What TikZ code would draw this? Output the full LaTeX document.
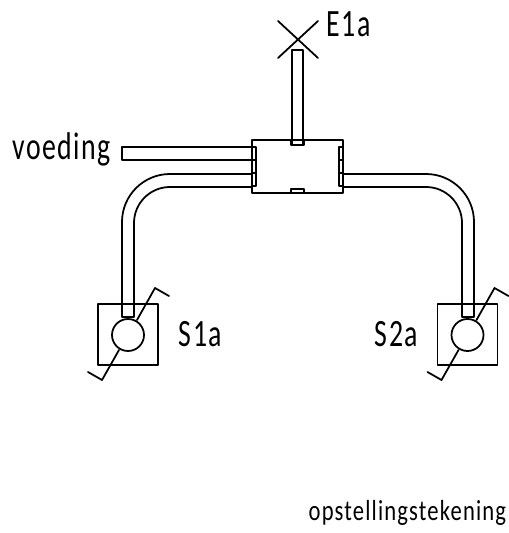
\documentclass[tikz,border=0pt]{standalone}
\usepackage{fontspec}
\setmainfont{Carlito}
\newfontfamily\labelfont[FakeStretch=.72,LetterSpace=4]{Carlito}
\newfontfamily\smallfont[FakeStretch=.78,LetterSpace=4]{Carlito}
\begin{document}
\begin{tikzpicture}[x=.02cm, y=-.02cm, line join=round, line cap=round, line width=1pt,
	label/.style={inner sep=0pt, font=\labelfont\fontsize{22}{22}\selectfont},
	small/.style={inner sep=0pt, font=\smallfont\fontsize{16.5}{16.5}\selectfont}]
	\useasboundingbox (0,0) rectangle (508,533);
	% doos
	\draw (252,140) rectangle (343,193);
	\draw (291,140) rectangle (304,145);
	\draw (291,189) rectangle (304,193);
	\foreach \x in {252,339}
		\foreach \y in {147,160,173}
			\draw (\x,\y) rectangle (\x+4,\y+13);
	% armatuur
	\draw (278,21)--(318,58) (318,21)--(278,58);
	\draw (292,145)--(292,50)--(303,50)--(303,145);
	\node[label, anchor=base west] (lamp) at (326,37) {E1a};
	% voeding
	\draw (252,147)--(122,147)--(122,160)--(252,160);
	\node[label, anchor=base east] (voeding) at (112,160) {voeding};
	% buizen
	\draw (252,174)--(170,174) arc[start angle=270, end angle=180, radius=48]--(122,317)--(134,317)--(134,223) arc[start angle=180, end angle=270, radius=36]--(252,187);
	\draw (343,174)--(426,174) arc[start angle=270, end angle=360, radius=48]--(474,317)--(462,317)--(462,223) arc[start angle=360, end angle=270, radius=36]--(343,187);
	% schakelaars
	\foreach \d in {0,339.5} {
		\draw (98+\d,304) rectangle (158+\d,365);
		\draw (128+\d,335) circle (16);
		\draw (137+\d,320)--(155+\d,288)--(169+\d,296);
		\draw (119+\d,350)--(102+\d,380)--(88+\d,372);
	}
	\node[label, anchor=base west] (sw1) at (178,346) {S1a};
	\node[label, anchor=base east] (sw2) at (419,346) {S2a};
	\node[small, anchor=base east] (titel) at (507,520) {opstellingstekening};
\end{tikzpicture}
\end{document}
